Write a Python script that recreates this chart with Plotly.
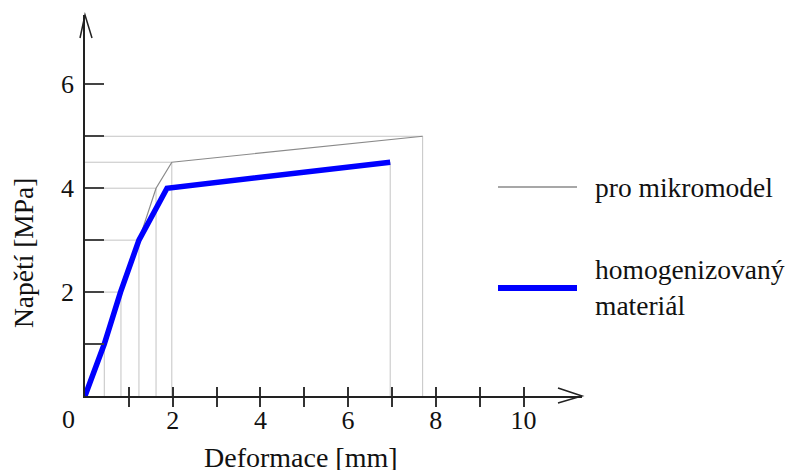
import plotly.graph_objects as go

# ---------------- data ----------------
grey_x = [0.0, 0.44, 0.82, 1.23, 1.62, 1.98, 7.70]
grey_y = [0.0, 1.0, 2.0, 3.0, 4.0, 4.5, 5.0]
blue_x = [0.0, 0.44, 0.81, 1.23, 1.87, 6.96]
blue_y = [0.0, 1.0, 2.0, 3.0, 4.0, 4.5]
x_tick_vals = [1, 2, 3, 4, 5, 6, 7, 8, 9, 10]
x_tick_text = ["", "2", "", "4", "", "6", "", "8", "", "10"]
y_tick_vals = [1, 2, 3, 4, 5, 6]
y_tick_text = ["", "2", "", "4", "", "6"]
series_names = ["pro mikromodel", "homogenizovaný<br>materiál"]
x_title = "Deformace [mm]"
y_title = "Napětí [MPa]"
origin_label = "0"

# ---------------- layout geometry ----------------
W, H = 785, 470
ML, MR, MT, MB = 85, 203, 15, 74
PW, PH = W - ML - MR, H - MT - MB
PX_PER_X, PX_PER_Y = 43.85, 51.95
XMAX, YMAX = PW / PX_PER_X, PH / PX_PER_Y
FONT = "Liberation Serif"
TXT = "#111111"


def px(xp):
    return (xp - ML) / PW


def py(yp):
    return (MT + PH - yp) / PH


# guide lines (horizontal to y-axis, vertical to x-axis) from the data points
gx, gy = [], []
for x, y in zip(grey_x[1:], grey_y[1:]):
    gx += [0, x, x, None]
    gy += [y, y, 0, None]
gx += [blue_x[-1], blue_x[-1], None]
gy += [blue_y[-1], 0, None]

fig = go.Figure()
fig.add_trace(go.Scatter(x=gx, y=gy, mode="lines", line=dict(color="#c4c4c4", width=1),
                         hoverinfo="skip", showlegend=False))
fig.add_trace(go.Scatter(x=grey_x, y=grey_y, mode="lines", line=dict(color="#8a8a8a", width=1.2),
                         name=series_names[0], showlegend=False))
fig.add_trace(go.Scatter(x=blue_x, y=blue_y, mode="lines", line=dict(color="#0000ff", width=5.5),
                         name=series_names[1], showlegend=False))
# invisible trace for the overlay axis (upper halves of the x ticks)
fig.add_trace(go.Scatter(x=[None], y=[None], xaxis="x2", mode="lines", showlegend=False,
                         hoverinfo="skip"))

axis_common = dict(showgrid=False, zeroline=False, automargin=False,
                   tickfont=dict(family=FONT, size=26, color=TXT))

fig.update_layout(
    width=W, height=H,
    margin=dict(l=ML, r=MR, t=MT, b=MB),
    paper_bgcolor="white", plot_bgcolor="white",
    xaxis=dict(range=[0, XMAX], showline=True, linecolor="#222222", linewidth=1.5,
               ticks="outside", ticklen=9, tickwidth=1.5, tickcolor="#333333",
               tickmode="array", tickvals=x_tick_vals, ticktext=x_tick_text,
               ticklabelstandoff=-9, **axis_common),
    xaxis2=dict(range=[0, XMAX], overlaying="x", anchor="y", side="bottom",
                showline=False, ticks="inside", ticklen=9, tickwidth=1.5, tickcolor="#333333",
                tickmode="array", tickvals=x_tick_vals, showticklabels=False,
                showgrid=False, zeroline=False, automargin=False),
    yaxis=dict(range=[0, YMAX], showline=True, linecolor="#222222", linewidth=1.5,
               ticks="inside", ticklen=19, tickwidth=1.5, tickcolor="#444444",
               tickmode="array", tickvals=y_tick_vals, ticktext=y_tick_text,
               ticklabelstandoff=4, **axis_common),
    showlegend=False,
)

# arrow heads
fig.add_shape(type="path", xref="paper", yref="paper",
              path=f"M {px(558)},{py(388)} L 1,0 L {px(558)},{py(403)}",
              line=dict(color="#222222", width=1.5))
fig.add_shape(type="path", xref="paper", yref="paper",
              path=f"M {px(80)},{py(38)} L 0,1 L {px(92)},{py(38)}",
              line=dict(color="#222222", width=1.5))

# legend (manual)
fig.add_shape(type="line", xref="paper", yref="paper", x0=px(498), x1=px(577),
              y0=py(187), y1=py(187), line=dict(color="#8a8a8a", width=1.5))
fig.add_shape(type="line", xref="paper", yref="paper", x0=px(498), x1=px(577),
              y0=py(288), y1=py(288), line=dict(color="#0000ff", width=6))
fig.add_annotation(xref="paper", yref="paper", x=px(593), y=py(187), text=series_names[0],
                   showarrow=False, xanchor="left", yanchor="middle", align="left",
                   font=dict(family=FONT, size=27.5, color=TXT))
fig.add_annotation(xref="paper", yref="paper", x=px(593), y=py(287), text=series_names[1],
                   showarrow=False, xanchor="left", yanchor="middle", align="left",
                   font=dict(family=FONT, size=27.5, color=TXT))

# axis titles and origin label
fig.add_annotation(xref="paper", yref="paper", x=px(301), y=py(457), text=x_title,
                   showarrow=False, xanchor="center", yanchor="middle",
                   font=dict(family=FONT, size=28, color=TXT))
fig.add_annotation(xref="paper", yref="paper", x=px(23), y=py(253), text=y_title,
                   textangle=-90, showarrow=False, xanchor="center", yanchor="middle",
                   font=dict(family=FONT, size=27.5, color=TXT))
fig.add_annotation(xref="paper", yref="paper", x=px(68), y=py(420), text=origin_label,
                   showarrow=False, xanchor="center", yanchor="middle",
                   font=dict(family=FONT, size=26, color=TXT))

fig.write_html("out.html")
